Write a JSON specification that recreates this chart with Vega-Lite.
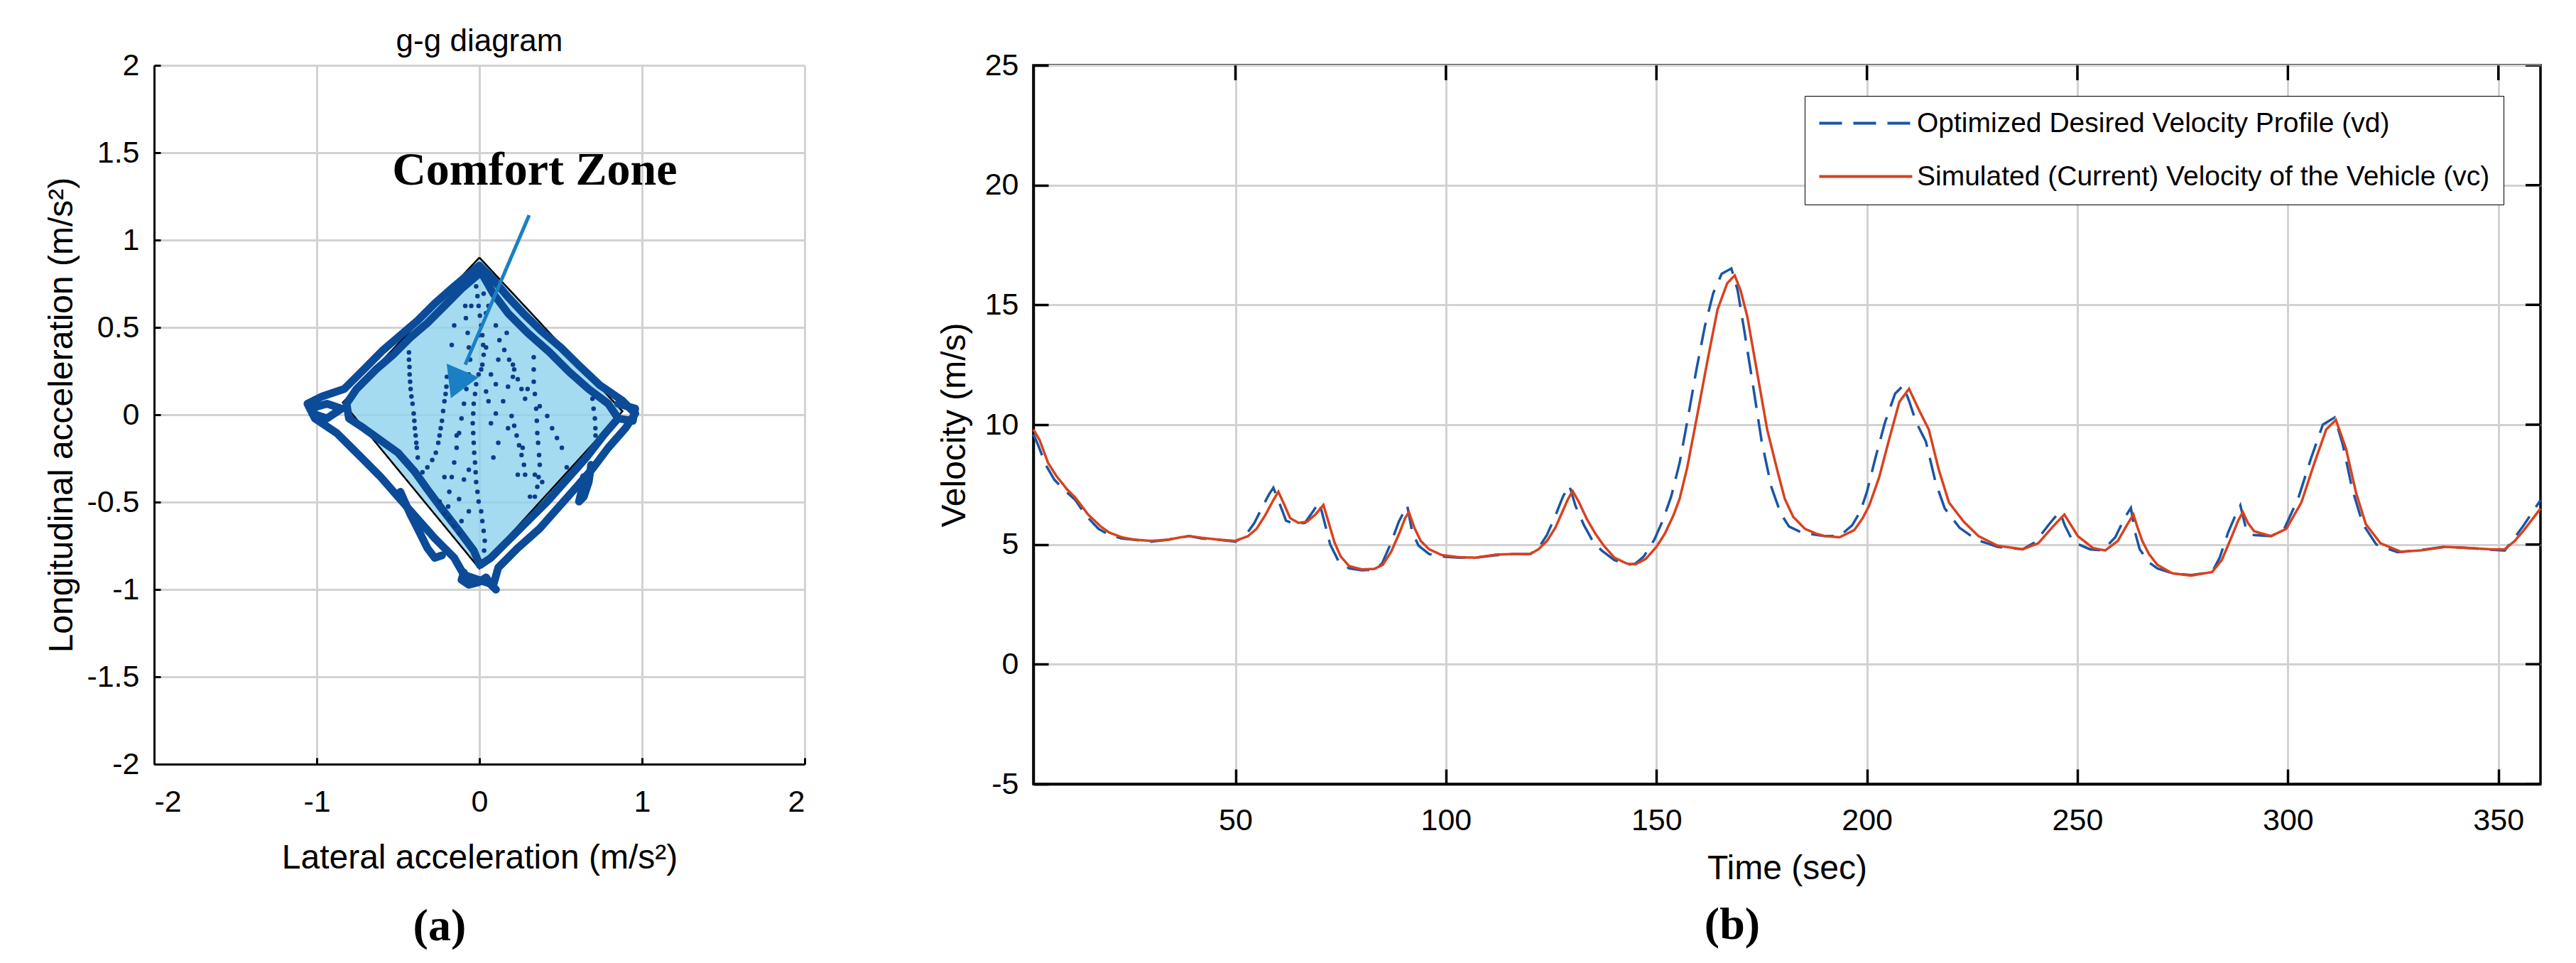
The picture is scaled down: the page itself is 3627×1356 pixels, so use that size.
{
  "$schema": "https://vega.github.io/schema/vega-lite/v6.json",
  "autosize": {"type": "pad"},
  "padding": {"left": 63, "top": 37, "right": 48, "bottom": 14},
  "background": "white",
  "config": {
    "font": "Liberation Sans",
    "view": {"stroke": null},
    "axis": {
      "labelFont": "Liberation Sans", "titleFont": "Liberation Sans",
      "labelColor": "black", "titleColor": "black", "titleFontWeight": "normal",
      "labelFontSize": 43, "titleFontSize": 48,
      "gridColor": "#d2d2d2", "gridWidth": 3, "gridOpacity": 1,
      "domainColor": "black", "tickColor": "black"
    }
  },
  "datasets": {
    "zone": [
      {"x": -0.84, "y": 0.07, "y2": 0.07},
      {"x": 0, "y": 0.9, "y2": -0.88},
      {"x": 0.88, "y": 0.02, "y2": 0.02}
    ],
    "outline": [
      {"i": 0, "x": 0, "y": 0.9}, {"i": 1, "x": 0.88, "y": 0.02}, {"i": 2, "x": 0, "y": -0.88},
      {"i": 3, "x": -0.84, "y": 0.07}, {"i": 4, "x": 0, "y": 0.9}
    ],
    "bands": [
      {"p": "A", "i": 0, "x": 0, "y": 0.854}, {"p": "A", "i": 1, "x": 0.08, "y": 0.78},
      {"p": "A", "i": 2, "x": 0.17, "y": 0.68}, {"p": "A", "i": 3, "x": 0.27, "y": 0.58},
      {"p": "A", "i": 4, "x": 0.38, "y": 0.48}, {"p": "A", "i": 5, "x": 0.5, "y": 0.385},
      {"p": "A", "i": 6, "x": 0.62, "y": 0.275}, {"p": "A", "i": 7, "x": 0.74, "y": 0.17},
      {"p": "A", "i": 8, "x": 0.88, "y": 0.08}, {"p": "A", "i": 9, "x": 0.958, "y": 0.007},
      {"p": "A", "i": 10, "x": 0.898, "y": -0.077}, {"p": "A", "i": 11, "x": 0.792, "y": -0.189},
      {"p": "A", "i": 12, "x": 0.702, "y": -0.301}, {"p": "A", "i": 13, "x": 0.597, "y": -0.413},
      {"p": "A", "i": 14, "x": 0.477, "y": -0.539}, {"p": "A", "i": 15, "x": 0.371, "y": -0.651},
      {"p": "A", "i": 16, "x": 0.236, "y": -0.763}, {"p": "A", "i": 17, "x": 0.116, "y": -0.875},
      {"p": "A", "i": 18, "x": 0.086, "y": -0.973}, {"p": "A", "i": 19, "x": -0.005, "y": -0.945},
      {"p": "A", "i": 20, "x": -0.095, "y": -0.917}, {"p": "A", "i": 21, "x": -0.155, "y": -0.819},
      {"p": "A", "i": 22, "x": -0.275, "y": -0.707}, {"p": "A", "i": 23, "x": -0.395, "y": -0.581},
      {"p": "A", "i": 24, "x": -0.501, "y": -0.469}, {"p": "A", "i": 25, "x": -0.606, "y": -0.357},
      {"p": "A", "i": 26, "x": -0.711, "y": -0.259}, {"p": "A", "i": 27, "x": -0.786, "y": -0.189},
      {"p": "A", "i": 28, "x": -0.877, "y": -0.105}, {"p": "A", "i": 29, "x": -1.012, "y": -0.021},
      {"p": "A", "i": 30, "x": -1.057, "y": 0.063}, {"p": "A", "i": 31, "x": -0.967, "y": 0.105},
      {"p": "A", "i": 32, "x": -0.832, "y": 0.147}, {"p": "A", "i": 33, "x": -0.711, "y": 0.259},
      {"p": "A", "i": 34, "x": -0.591, "y": 0.371}, {"p": "A", "i": 35, "x": -0.486, "y": 0.455},
      {"p": "A", "i": 36, "x": -0.38, "y": 0.539}, {"p": "A", "i": 37, "x": -0.275, "y": 0.637},
      {"p": "A", "i": 38, "x": -0.155, "y": 0.735}, {"p": "A", "i": 39, "x": -0.065, "y": 0.805},
      {"p": "A", "i": 40, "x": 0, "y": 0.854},
      {"p": "B", "i": 0, "x": -0.005, "y": 0.805}, {"p": "B", "i": 1, "x": -0.11, "y": 0.721},
      {"p": "B", "i": 2, "x": -0.215, "y": 0.623}, {"p": "B", "i": 3, "x": -0.32, "y": 0.525},
      {"p": "B", "i": 4, "x": -0.426, "y": 0.441}, {"p": "B", "i": 5, "x": -0.531, "y": 0.343},
      {"p": "B", "i": 6, "x": -0.636, "y": 0.259}, {"p": "B", "i": 7, "x": -0.756, "y": 0.147},
      {"p": "B", "i": 8, "x": -0.817, "y": 0.063}, {"p": "B", "i": 9, "x": -0.802, "y": -0.021},
      {"p": "B", "i": 10, "x": -0.711, "y": -0.077}, {"p": "B", "i": 11, "x": -0.606, "y": -0.147},
      {"p": "B", "i": 12, "x": -0.501, "y": -0.217}, {"p": "B", "i": 13, "x": -0.395, "y": -0.329},
      {"p": "B", "i": 14, "x": -0.32, "y": -0.427}, {"p": "B", "i": 15, "x": -0.23, "y": -0.539},
      {"p": "B", "i": 16, "x": -0.125, "y": -0.665}, {"p": "B", "i": 17, "x": -0.035, "y": -0.777},
      {"p": "B", "i": 18, "x": 0.003, "y": -0.861}, {"p": "B", "i": 19, "x": 0.071, "y": -0.819},
      {"p": "B", "i": 20, "x": 0.176, "y": -0.721}, {"p": "B", "i": 21, "x": 0.296, "y": -0.609},
      {"p": "B", "i": 22, "x": 0.417, "y": -0.497}, {"p": "B", "i": 23, "x": 0.537, "y": -0.371},
      {"p": "B", "i": 24, "x": 0.657, "y": -0.245}, {"p": "B", "i": 25, "x": 0.762, "y": -0.119},
      {"p": "B", "i": 26, "x": 0.853, "y": -0.021}, {"p": "B", "i": 27, "x": 0.792, "y": 0.063},
      {"p": "B", "i": 28, "x": 0.672, "y": 0.147}, {"p": "B", "i": 29, "x": 0.552, "y": 0.245},
      {"p": "B", "i": 30, "x": 0.432, "y": 0.357}, {"p": "B", "i": 31, "x": 0.296, "y": 0.469},
      {"p": "B", "i": 32, "x": 0.176, "y": 0.581}, {"p": "B", "i": 33, "x": 0.086, "y": 0.693},
      {"p": "B", "i": 34, "x": 0.026, "y": 0.791},
      {"p": "D", "i": 0, "x": -0.486, "y": -0.441}, {"p": "D", "i": 1, "x": -0.426, "y": -0.567},
      {"p": "D", "i": 2, "x": -0.365, "y": -0.679}, {"p": "D", "i": 3, "x": -0.32, "y": -0.763},
      {"p": "D", "i": 4, "x": -0.275, "y": -0.819}, {"p": "D", "i": 5, "x": -0.23, "y": -0.805},
      {"p": "E", "i": 0, "x": -0.095, "y": -0.903}, {"p": "E", "i": 1, "x": -0.11, "y": -0.945},
      {"p": "E", "i": 2, "x": -0.065, "y": -0.973}, {"p": "E", "i": 3, "x": -0.005, "y": -0.959},
      {"p": "E", "i": 4, "x": 0.041, "y": -0.931}, {"p": "E", "i": 5, "x": 0.071, "y": -0.973},
      {"p": "E", "i": 6, "x": 0.102, "y": -1.001},
      {"p": "F", "i": 0, "x": 0.642, "y": -0.357}, {"p": "F", "i": 1, "x": 0.627, "y": -0.441},
      {"p": "F", "i": 2, "x": 0.612, "y": -0.497}, {"p": "F", "i": 3, "x": 0.642, "y": -0.469},
      {"p": "F", "i": 4, "x": 0.672, "y": -0.385}, {"p": "F", "i": 5, "x": 0.687, "y": -0.287},
      {"p": "G", "i": 0, "x": -1.042, "y": 0.035}, {"p": "G", "i": 1, "x": -0.937, "y": 0.063},
      {"p": "G", "i": 2, "x": -0.847, "y": 0.035}, {"p": "G", "i": 3, "x": -0.937, "y": -0.021},
      {"p": "G", "i": 4, "x": -1.027, "y": 0.007},
      {"p": "H", "i": 0, "x": 0.853, "y": 0.063}, {"p": "H", "i": 1, "x": 0.958, "y": 0.035},
      {"p": "H", "i": 2, "x": 0.943, "y": -0.035}, {"p": "H", "i": 3, "x": 0.853, "y": -0.021}
    ],
    "dots": [
      {"x": -0.433, "y": 0.357}, {"x": -0.433, "y": 0.315}, {"x": -0.43, "y": 0.273}, {"x": -0.429, "y": 0.231},
      {"x": -0.426, "y": 0.189}, {"x": -0.423, "y": 0.147}, {"x": -0.418, "y": 0.105}, {"x": -0.411, "y": 0.063},
      {"x": -0.404, "y": 0.007}, {"x": -0.4, "y": -0.035}, {"x": -0.397, "y": -0.077}, {"x": -0.392, "y": -0.119},
      {"x": -0.388, "y": -0.161}, {"x": -0.385, "y": -0.189}, {"x": -0.379, "y": -0.245},
      {"x": -0.2, "y": 0.217}, {"x": -0.203, "y": 0.161}, {"x": -0.208, "y": 0.119}, {"x": -0.215, "y": 0.077},
      {"x": -0.223, "y": 0.021}, {"x": -0.23, "y": -0.035}, {"x": -0.238, "y": -0.077}, {"x": -0.245, "y": -0.119},
      {"x": -0.253, "y": -0.161}, {"x": -0.268, "y": -0.217}, {"x": -0.29, "y": -0.259}, {"x": -0.32, "y": -0.301},
      {"x": -0.35, "y": -0.329},
      {"x": -0.02, "y": 0.735}, {"x": -0.012, "y": 0.679}, {"x": -0.005, "y": 0.623}, {"x": 0.003, "y": 0.567},
      {"x": 0.011, "y": 0.511}, {"x": 0.018, "y": 0.455}, {"x": 0.023, "y": 0.399}, {"x": 0.026, "y": 0.343},
      {"x": 0.018, "y": 0.287}, {"x": -0.005, "y": 0.231}, {"x": -0.02, "y": 0.175}, {"x": -0.027, "y": 0.119},
      {"x": -0.035, "y": 0.063}, {"x": -0.038, "y": 0.007}, {"x": -0.041, "y": -0.049}, {"x": -0.038, "y": -0.105},
      {"x": -0.035, "y": -0.161}, {"x": -0.032, "y": -0.217}, {"x": -0.027, "y": -0.273}, {"x": -0.023, "y": -0.329},
      {"x": -0.02, "y": -0.385}, {"x": -0.012, "y": -0.441}, {"x": -0.005, "y": -0.497}, {"x": 0.011, "y": -0.553},
      {"x": 0.018, "y": -0.609}, {"x": 0.026, "y": -0.665}, {"x": 0.033, "y": -0.721}, {"x": 0.029, "y": -0.777},
      {"x": -0.087, "y": 0.623}, {"x": -0.083, "y": 0.553}, {"x": -0.072, "y": 0.469}, {"x": -0.065, "y": 0.385},
      {"x": -0.057, "y": 0.315}, {"x": -0.065, "y": 0.231}, {"x": -0.08, "y": 0.147}, {"x": -0.095, "y": 0.063},
      {"x": -0.11, "y": -0.021}, {"x": -0.125, "y": -0.105}, {"x": -0.14, "y": -0.189}, {"x": -0.155, "y": -0.273},
      {"x": -0.17, "y": -0.357}, {"x": -0.185, "y": -0.441}, {"x": -0.192, "y": -0.525}, {"x": -0.185, "y": -0.595},
      {"x": -0.155, "y": -0.637}, {"x": -0.125, "y": -0.679},
      {"x": 0.123, "y": 0.427}, {"x": 0.153, "y": 0.371}, {"x": 0.183, "y": 0.315}, {"x": 0.214, "y": 0.259},
      {"x": 0.236, "y": 0.203}, {"x": 0.259, "y": 0.147}, {"x": 0.281, "y": 0.091},
      {"x": 0.198, "y": -0.007}, {"x": 0.214, "y": -0.063}, {"x": 0.229, "y": -0.119}, {"x": 0.244, "y": -0.175},
      {"x": 0.259, "y": -0.231}, {"x": 0.274, "y": -0.287},
      {"x": 0.334, "y": 0.329}, {"x": 0.334, "y": 0.259}, {"x": 0.334, "y": 0.189}, {"x": 0.341, "y": 0.119},
      {"x": 0.349, "y": 0.035}, {"x": 0.353, "y": -0.035}, {"x": 0.356, "y": -0.105}, {"x": 0.361, "y": -0.161},
      {"x": 0.367, "y": -0.231}, {"x": 0.371, "y": -0.287}, {"x": 0.364, "y": -0.357}, {"x": 0.356, "y": -0.413},
      {"x": 0.341, "y": -0.469},
      {"x": 0.417, "y": -0.007}, {"x": 0.447, "y": -0.077}, {"x": 0.477, "y": -0.133}, {"x": 0.507, "y": -0.189},
      {"x": 0.537, "y": -0.301},
      {"x": 0.695, "y": 0.091}, {"x": 0.702, "y": 0.035}, {"x": 0.71, "y": -0.021}, {"x": 0.713, "y": -0.077},
      {"x": 0.714, "y": -0.119},
      {"x": -0.17, "y": 0.399}, {"x": -0.155, "y": 0.511}, {"x": 0.041, "y": 0.581}, {"x": 0.101, "y": 0.511},
      {"x": 0.168, "y": 0.469}, {"x": 0.116, "y": 0.315}, {"x": 0.206, "y": 0.287}, {"x": 0.206, "y": 0.217},
      {"x": 0.071, "y": 0.231}, {"x": 0.101, "y": 0.175}, {"x": 0.041, "y": 0.133}, {"x": 0.176, "y": 0.161},
      {"x": 0.296, "y": 0.147}, {"x": 0.371, "y": 0.049}, {"x": 0.101, "y": 0.007}, {"x": 0.071, "y": -0.049},
      {"x": 0.176, "y": -0.077}, {"x": 0.266, "y": -0.189}, {"x": 0.281, "y": -0.343}, {"x": 0.341, "y": -0.343},
      {"x": 0.236, "y": -0.343}, {"x": -0.125, "y": -0.483}, {"x": -0.095, "y": -0.371}, {"x": -0.065, "y": -0.315},
      {"x": -0.14, "y": -0.119}, {"x": -0.215, "y": -0.357}, {"x": -0.245, "y": -0.497}, {"x": 0.026, "y": 0.693},
      {"x": 0.056, "y": 0.623}, {"x": -0.05, "y": 0.623}, {"x": -0.005, "y": 0.455}, {"x": 0.041, "y": 0.385},
      {"x": 0.011, "y": 0.259}, {"x": 0.056, "y": 0.077}, {"x": 0.146, "y": 0.077}, {"x": 0.116, "y": -0.161},
      {"x": 0.086, "y": -0.245}, {"x": -0.065, "y": -0.553}, {"x": -0.11, "y": -0.609}, {"x": -0.215, "y": -0.567},
      {"x": 0.311, "y": -0.469}, {"x": 0.386, "y": -0.385}
    ],
    "arrow": [{"x": 0.306, "y": 1.142, "x2": -0.087, "y2": 0.287}],
    "arrowhead": [{"x": -0.127, "y": 0.2005}],
    "leftText": [
      {"x": 0.34, "y": 1.4, "label": "Comfort Zone"}
    ],
    "panelA": [{"x": -0.245, "y": -2.93, "label": "(a)"}],
    "panelB": [{"t": 168, "v": -10.9, "label": "(b)"}],
    "topTicks": [
      {"t": 50, "v": 25}, {"t": 100, "v": 25}, {"t": 150, "v": 25}, {"t": 200, "v": 25},
      {"t": 250, "v": 25}, {"t": 300, "v": 25}, {"t": 350, "v": 25}
    ],
    "rightTicks": [
      {"t": 360, "v": -5}, {"t": 360, "v": 0}, {"t": 360, "v": 5}, {"t": 360, "v": 10},
      {"t": 360, "v": 15}, {"t": 360, "v": 20}, {"t": 360, "v": 25}
    ],
    "vel": [
      {"s": "vd", "t": 2, "v": 9.6}, {"s": "vd", "t": 3, "v": 9.2}, {"s": "vd", "t": 5, "v": 8.3}, {"s": "vd", "t": 7, "v": 7.7},
      {"s": "vd", "t": 9.5, "v": 7.25}, {"s": "vd", "t": 12, "v": 6.85}, {"s": "vd", "t": 14.5, "v": 6.2}, {"s": "vd", "t": 17.5, "v": 5.65},
      {"s": "vd", "t": 20, "v": 5.4}, {"s": "vd", "t": 23, "v": 5.25}, {"s": "vd", "t": 26, "v": 5.2}, {"s": "vd", "t": 30, "v": 5.12},
      {"s": "vd", "t": 34, "v": 5.2}, {"s": "vd", "t": 37, "v": 5.3}, {"s": "vd", "t": 39, "v": 5.35}, {"s": "vd", "t": 42, "v": 5.25},
      {"s": "vd", "t": 46, "v": 5.2}, {"s": "vd", "t": 50, "v": 5.12}, {"s": "vd", "t": 52.5, "v": 5.4}, {"s": "vd", "t": 54.5, "v": 5.9},
      {"s": "vd", "t": 56.5, "v": 6.6}, {"s": "vd", "t": 58, "v": 7.1}, {"s": "vd", "t": 59, "v": 7.37}, {"s": "vd", "t": 60.5, "v": 6.7},
      {"s": "vd", "t": 62, "v": 6.0}, {"s": "vd", "t": 64, "v": 5.85}, {"s": "vd", "t": 66.5, "v": 5.9}, {"s": "vd", "t": 68.5, "v": 6.4},
      {"s": "vd", "t": 69.9, "v": 6.78}, {"s": "vd", "t": 71.2, "v": 5.9}, {"s": "vd", "t": 72.5, "v": 5.0}, {"s": "vd", "t": 74.5, "v": 4.3},
      {"s": "vd", "t": 77, "v": 4.0}, {"s": "vd", "t": 80, "v": 3.92}, {"s": "vd", "t": 83, "v": 3.95}, {"s": "vd", "t": 84.8, "v": 4.2},
      {"s": "vd", "t": 86.8, "v": 5.0}, {"s": "vd", "t": 88.8, "v": 5.95}, {"s": "vd", "t": 90.8, "v": 6.63}, {"s": "vd", "t": 92, "v": 5.5},
      {"s": "vd", "t": 93.5, "v": 4.95}, {"s": "vd", "t": 96, "v": 4.6}, {"s": "vd", "t": 99, "v": 4.5}, {"s": "vd", "t": 103, "v": 4.45},
      {"s": "vd", "t": 107, "v": 4.45}, {"s": "vd", "t": 112, "v": 4.55}, {"s": "vd", "t": 116, "v": 4.6}, {"s": "vd", "t": 120, "v": 4.6},
      {"s": "vd", "t": 122, "v": 4.85}, {"s": "vd", "t": 124, "v": 5.4}, {"s": "vd", "t": 126, "v": 6.2}, {"s": "vd", "t": 127.8, "v": 7.0},
      {"s": "vd", "t": 129.3, "v": 7.47}, {"s": "vd", "t": 130.8, "v": 6.6}, {"s": "vd", "t": 132.8, "v": 5.8}, {"s": "vd", "t": 135, "v": 5.1},
      {"s": "vd", "t": 137, "v": 4.75}, {"s": "vd", "t": 140, "v": 4.35}, {"s": "vd", "t": 143, "v": 4.15}, {"s": "vd", "t": 145, "v": 4.2},
      {"s": "vd", "t": 147, "v": 4.5}, {"s": "vd", "t": 149.5, "v": 5.2}, {"s": "vd", "t": 151.5, "v": 6.0}, {"s": "vd", "t": 153.5, "v": 7.0},
      {"s": "vd", "t": 155.5, "v": 8.4}, {"s": "vd", "t": 157.5, "v": 10.3}, {"s": "vd", "t": 159.5, "v": 12.3}, {"s": "vd", "t": 161.5, "v": 14.1},
      {"s": "vd", "t": 163.5, "v": 15.5}, {"s": "vd", "t": 165.5, "v": 16.3}, {"s": "vd", "t": 167.8, "v": 16.52}, {"s": "vd", "t": 169.3, "v": 15.6},
      {"s": "vd", "t": 170.8, "v": 14.0}, {"s": "vd", "t": 172.8, "v": 11.8}, {"s": "vd", "t": 175, "v": 9.3}, {"s": "vd", "t": 177.3, "v": 7.4},
      {"s": "vd", "t": 179.5, "v": 6.3}, {"s": "vd", "t": 181.5, "v": 5.75}, {"s": "vd", "t": 184.5, "v": 5.5}, {"s": "vd", "t": 188, "v": 5.4},
      {"s": "vd", "t": 190, "v": 5.35}, {"s": "vd", "t": 193.5, "v": 5.35}, {"s": "vd", "t": 196.5, "v": 5.8}, {"s": "vd", "t": 198.5, "v": 6.4},
      {"s": "vd", "t": 200, "v": 7.2}, {"s": "vd", "t": 202, "v": 8.6}, {"s": "vd", "t": 204.3, "v": 10.1}, {"s": "vd", "t": 206.7, "v": 11.3},
      {"s": "vd", "t": 208.6, "v": 11.63}, {"s": "vd", "t": 210, "v": 11.0}, {"s": "vd", "t": 211.7, "v": 10.1}, {"s": "vd", "t": 214, "v": 9.3},
      {"s": "vd", "t": 216.3, "v": 7.6}, {"s": "vd", "t": 218.5, "v": 6.5}, {"s": "vd", "t": 222, "v": 5.7}, {"s": "vd", "t": 226, "v": 5.2},
      {"s": "vd", "t": 231, "v": 4.9}, {"s": "vd", "t": 237, "v": 4.8}, {"s": "vd", "t": 240, "v": 5.1}, {"s": "vd", "t": 243.3, "v": 5.85},
      {"s": "vd", "t": 245.8, "v": 6.38}, {"s": "vd", "t": 247, "v": 5.8}, {"s": "vd", "t": 249, "v": 5.1}, {"s": "vd", "t": 253, "v": 4.8},
      {"s": "vd", "t": 256, "v": 4.75}, {"s": "vd", "t": 259, "v": 5.3}, {"s": "vd", "t": 261.2, "v": 6.1}, {"s": "vd", "t": 262.7, "v": 6.53},
      {"s": "vd", "t": 263.7, "v": 5.5}, {"s": "vd", "t": 264.8, "v": 4.8}, {"s": "vd", "t": 267, "v": 4.25}, {"s": "vd", "t": 269, "v": 4.0},
      {"s": "vd", "t": 272.5, "v": 3.8}, {"s": "vd", "t": 277, "v": 3.72}, {"s": "vd", "t": 282, "v": 3.85}, {"s": "vd", "t": 283.8, "v": 4.45},
      {"s": "vd", "t": 285.8, "v": 5.5}, {"s": "vd", "t": 287.5, "v": 6.2}, {"s": "vd", "t": 288.7, "v": 6.63}, {"s": "vd", "t": 290, "v": 5.7},
      {"s": "vd", "t": 291.5, "v": 5.4}, {"s": "vd", "t": 296, "v": 5.35}, {"s": "vd", "t": 299, "v": 5.6}, {"s": "vd", "t": 302.5, "v": 6.95},
      {"s": "vd", "t": 305.5, "v": 8.6}, {"s": "vd", "t": 308.3, "v": 10.0}, {"s": "vd", "t": 311.1, "v": 10.3}, {"s": "vd", "t": 313, "v": 9.2},
      {"s": "vd", "t": 315.3, "v": 7.3}, {"s": "vd", "t": 317.8, "v": 5.85}, {"s": "vd", "t": 321, "v": 5.0}, {"s": "vd", "t": 326, "v": 4.68},
      {"s": "vd", "t": 331, "v": 4.75}, {"s": "vd", "t": 337, "v": 4.9}, {"s": "vd", "t": 343, "v": 4.85}, {"s": "vd", "t": 348, "v": 4.78},
      {"s": "vd", "t": 351.5, "v": 4.75}, {"s": "vd", "t": 353.5, "v": 5.2}, {"s": "vd", "t": 356, "v": 5.8}, {"s": "vd", "t": 360, "v": 6.85},
      {"s": "vc", "t": 2, "v": 9.8}, {"s": "vc", "t": 3.5, "v": 9.35}, {"s": "vc", "t": 5.5, "v": 8.4}, {"s": "vc", "t": 7.5, "v": 7.85},
      {"s": "vc", "t": 10, "v": 7.3}, {"s": "vc", "t": 12, "v": 6.95}, {"s": "vc", "t": 15, "v": 6.25}, {"s": "vc", "t": 18, "v": 5.75},
      {"s": "vc", "t": 20, "v": 5.5}, {"s": "vc", "t": 23, "v": 5.3}, {"s": "vc", "t": 26, "v": 5.2}, {"s": "vc", "t": 30, "v": 5.15},
      {"s": "vc", "t": 34, "v": 5.2}, {"s": "vc", "t": 37, "v": 5.3}, {"s": "vc", "t": 39, "v": 5.35}, {"s": "vc", "t": 42, "v": 5.28},
      {"s": "vc", "t": 46, "v": 5.2}, {"s": "vc", "t": 50, "v": 5.15}, {"s": "vc", "t": 53, "v": 5.35}, {"s": "vc", "t": 55, "v": 5.65},
      {"s": "vc", "t": 57, "v": 6.2}, {"s": "vc", "t": 59, "v": 6.85}, {"s": "vc", "t": 60.2, "v": 7.2}, {"s": "vc", "t": 61.5, "v": 6.7},
      {"s": "vc", "t": 63, "v": 6.1}, {"s": "vc", "t": 65, "v": 5.9}, {"s": "vc", "t": 67, "v": 5.95}, {"s": "vc", "t": 69, "v": 6.25},
      {"s": "vc", "t": 70.9, "v": 6.65}, {"s": "vc", "t": 72, "v": 6.0}, {"s": "vc", "t": 73.5, "v": 5.1}, {"s": "vc", "t": 75, "v": 4.5},
      {"s": "vc", "t": 77, "v": 4.1}, {"s": "vc", "t": 80, "v": 3.96}, {"s": "vc", "t": 83, "v": 3.98}, {"s": "vc", "t": 85, "v": 4.15},
      {"s": "vc", "t": 87, "v": 4.7}, {"s": "vc", "t": 89, "v": 5.5}, {"s": "vc", "t": 90.3, "v": 6.1}, {"s": "vc", "t": 91.2, "v": 6.35},
      {"s": "vc", "t": 92.5, "v": 5.7}, {"s": "vc", "t": 94, "v": 5.15}, {"s": "vc", "t": 96, "v": 4.8}, {"s": "vc", "t": 99, "v": 4.56},
      {"s": "vc", "t": 103, "v": 4.47}, {"s": "vc", "t": 107, "v": 4.45}, {"s": "vc", "t": 112, "v": 4.58}, {"s": "vc", "t": 116, "v": 4.6},
      {"s": "vc", "t": 120, "v": 4.6}, {"s": "vc", "t": 122, "v": 4.8}, {"s": "vc", "t": 124, "v": 5.15}, {"s": "vc", "t": 126, "v": 5.7},
      {"s": "vc", "t": 127.5, "v": 6.3}, {"s": "vc", "t": 129, "v": 6.9}, {"s": "vc", "t": 130.1, "v": 7.23}, {"s": "vc", "t": 131.5, "v": 6.8},
      {"s": "vc", "t": 133.5, "v": 6.05}, {"s": "vc", "t": 135.5, "v": 5.45}, {"s": "vc", "t": 137.5, "v": 4.95}, {"s": "vc", "t": 140, "v": 4.45},
      {"s": "vc", "t": 143, "v": 4.2}, {"s": "vc", "t": 145, "v": 4.17}, {"s": "vc", "t": 147.5, "v": 4.4}, {"s": "vc", "t": 150, "v": 4.9},
      {"s": "vc", "t": 152, "v": 5.45}, {"s": "vc", "t": 154, "v": 6.2}, {"s": "vc", "t": 155.5, "v": 6.9}, {"s": "vc", "t": 157.3, "v": 8.2},
      {"s": "vc", "t": 159.7, "v": 10.4}, {"s": "vc", "t": 162.1, "v": 12.65}, {"s": "vc", "t": 164.5, "v": 14.8}, {"s": "vc", "t": 166.8, "v": 15.9},
      {"s": "vc", "t": 168.6, "v": 16.23}, {"s": "vc", "t": 170, "v": 15.6}, {"s": "vc", "t": 171.6, "v": 14.5}, {"s": "vc", "t": 173.9, "v": 12.2},
      {"s": "vc", "t": 176.3, "v": 9.8}, {"s": "vc", "t": 178.7, "v": 8.1}, {"s": "vc", "t": 180.5, "v": 6.9}, {"s": "vc", "t": 182.5, "v": 6.15},
      {"s": "vc", "t": 185.3, "v": 5.65}, {"s": "vc", "t": 188, "v": 5.45}, {"s": "vc", "t": 190, "v": 5.35}, {"s": "vc", "t": 193.5, "v": 5.3},
      {"s": "vc", "t": 197, "v": 5.6}, {"s": "vc", "t": 199, "v": 6.1}, {"s": "vc", "t": 200.6, "v": 6.65}, {"s": "vc", "t": 202.9, "v": 7.8},
      {"s": "vc", "t": 205.3, "v": 9.4}, {"s": "vc", "t": 207.7, "v": 10.95}, {"s": "vc", "t": 210, "v": 11.5}, {"s": "vc", "t": 212.4, "v": 10.6},
      {"s": "vc", "t": 214.7, "v": 9.8}, {"s": "vc", "t": 217.1, "v": 8.1}, {"s": "vc", "t": 219.5, "v": 6.75}, {"s": "vc", "t": 223, "v": 5.95},
      {"s": "vc", "t": 226.5, "v": 5.35}, {"s": "vc", "t": 231, "v": 4.95}, {"s": "vc", "t": 237, "v": 4.8}, {"s": "vc", "t": 240.7, "v": 5.05},
      {"s": "vc", "t": 244.2, "v": 5.75}, {"s": "vc", "t": 246.9, "v": 6.25}, {"s": "vc", "t": 248.5, "v": 5.8}, {"s": "vc", "t": 250.1, "v": 5.35},
      {"s": "vc", "t": 253.7, "v": 4.85}, {"s": "vc", "t": 256.6, "v": 4.75}, {"s": "vc", "t": 259.6, "v": 5.15}, {"s": "vc", "t": 261.9, "v": 5.85},
      {"s": "vc", "t": 263.3, "v": 6.25}, {"s": "vc", "t": 264.3, "v": 5.7}, {"s": "vc", "t": 265.4, "v": 5.15}, {"s": "vc", "t": 267, "v": 4.6},
      {"s": "vc", "t": 269, "v": 4.15}, {"s": "vc", "t": 272.5, "v": 3.8}, {"s": "vc", "t": 277, "v": 3.7}, {"s": "vc", "t": 282, "v": 3.85},
      {"s": "vc", "t": 284.3, "v": 4.35}, {"s": "vc", "t": 286.7, "v": 5.35}, {"s": "vc", "t": 288.2, "v": 6.0}, {"s": "vc", "t": 289.3, "v": 6.35},
      {"s": "vc", "t": 290.5, "v": 5.9}, {"s": "vc", "t": 292, "v": 5.55}, {"s": "vc", "t": 296, "v": 5.35}, {"s": "vc", "t": 299.6, "v": 5.65},
      {"s": "vc", "t": 303.2, "v": 6.75}, {"s": "vc", "t": 306.1, "v": 8.3}, {"s": "vc", "t": 309.1, "v": 9.8}, {"s": "vc", "t": 311.4, "v": 10.2},
      {"s": "vc", "t": 313.8, "v": 9.0}, {"s": "vc", "t": 316.2, "v": 7.15}, {"s": "vc", "t": 318.5, "v": 5.85}, {"s": "vc", "t": 322, "v": 5.05},
      {"s": "vc", "t": 326.8, "v": 4.7}, {"s": "vc", "t": 331.5, "v": 4.75}, {"s": "vc", "t": 337.4, "v": 4.9}, {"s": "vc", "t": 343.3, "v": 4.85},
      {"s": "vc", "t": 348, "v": 4.8}, {"s": "vc", "t": 351.5, "v": 4.8}, {"s": "vc", "t": 353.9, "v": 5.15}, {"s": "vc", "t": 356.3, "v": 5.65},
      {"s": "vc", "t": 360, "v": 6.5}
    ]
  },
  "spacing": 322,
  "bounds": "flush",
  "hconcat": [
    {
      "width": 916,
      "height": 984,
      "title": {"text": "g-g diagram", "fontSize": 44, "fontWeight": "normal", "font": "Liberation Sans", "color": "black", "offset": -45, "baseline": "alphabetic"},
      "encoding": {
        "x": {"field": "x", "type": "quantitative",
          "scale": {"domain": [-2, 2], "nice": false, "zero": false},
          "axis": {"title": "Lateral acceleration (m/s²)", "values": [-2, -1, 0, 1, 2], "labelExpr": "'' + datum.value",
            "grid": true, "domainWidth": 3, "tickSize": -9, "tickWidth": 3, "labelPadding": 41, "titlePadding": 33}},
        "y": {"field": "y", "type": "quantitative",
          "scale": {"domain": [-2, 2], "nice": false, "zero": false},
          "axis": {"title": "Longitudinal acceleration (m/s²)", "values": [-2, -1.5, -1, -0.5, 0, 0.5, 1, 1.5, 2], "labelExpr": "'' + datum.value",
            "grid": true, "domainWidth": 3, "tickSize": -9, "tickWidth": 3, "labelPadding": 30, "titlePadding": 10}}
      },
      "layer": [
        {"data": {"name": "zone"}, "mark": {"type": "area", "color": "#8fd2ee", "opacity": 0.8},
          "encoding": {"y2": {"field": "y2"}}},
        {"data": {"name": "outline"}, "mark": {"type": "line", "color": "black", "strokeWidth": 2.5},
          "encoding": {"order": {"field": "i", "type": "quantitative"}}},
        {"data": {"name": "bands"}, "mark": {"type": "line", "color": "#0b4b98", "strokeWidth": 11, "strokeJoin": "round", "strokeCap": "round"},
          "encoding": {"detail": {"field": "p", "type": "nominal"}, "order": {"field": "i", "type": "quantitative"}}},
        {"data": {"name": "dots"}, "mark": {"type": "point", "filled": true, "color": "#0a3d8c", "size": 42, "opacity": 1},
          "encoding": {}},
        {"data": {"name": "arrow"}, "mark": {"type": "rule", "color": "#1a80c3", "strokeWidth": 5},
          "encoding": {"x2": {"field": "x2"}, "y2": {"field": "y2"}}},
        {"data": {"name": "arrowhead"}, "mark": {"type": "point", "shape": "triangle", "filled": true, "color": "#1a80c3", "size": 2400, "angle": 203, "opacity": 1},
          "encoding": {}},
        {"data": {"name": "leftText"}, "mark": {"type": "text", "font": "Liberation Serif", "fontWeight": "bold", "fontSize": 66, "color": "black", "align": "center", "baseline": "middle"},
          "encoding": {"text": {"field": "label"}}},
        {"data": {"name": "panelA"}, "mark": {"type": "text", "font": "Liberation Serif", "fontWeight": "bold", "fontSize": 64, "color": "black", "align": "center", "baseline": "middle"},
          "encoding": {"text": {"field": "label"}}}
      ]
    },
    {
      "width": 2122,
      "height": 1012,
      "view": {"stroke": "black", "strokeWidth": 3.5},
      "resolve": {"axis": {"x": "independent", "y": "independent"}},
      "layer": [
        {"data": {"name": "vel"}, "mark": {"type": "line", "strokeWidth": 3.5},
          "encoding": {
            "x": {"field": "t", "type": "quantitative",
              "scale": {"domain": [2, 360], "nice": false, "zero": false},
              "axis": {"orient": "bottom", "title": "Time (sec)", "values": [50, 100, 150, 200, 250, 300, 350], "labelExpr": "'' + datum.value",
                "grid": true, "domainWidth": 3.5, "tickSize": -21, "tickWidth": 3.5, "labelPadding": 51, "titlePadding": 22}},
            "y": {"field": "v", "type": "quantitative",
              "scale": {"domain": [-5, 25], "nice": false, "zero": false},
              "axis": {"orient": "left", "title": "Velocity (m/s)", "values": [-5, 0, 5, 10, 15, 20, 25], "labelExpr": "'' + datum.value",
                "grid": true, "domainWidth": 3.5, "tickSize": -21, "tickWidth": 3.5, "labelPadding": 42, "titlePadding": 18}},
            "color": {"field": "s", "type": "nominal",
              "scale": {"domain": ["vd", "vc"], "range": ["#1a55a5", "#d9411e"]},
              "legend": {"orient": "none", "legendX": 2324, "legendY": 43, "title": null,
                "labelExpr": "datum.value === 'vd' ? 'Optimized Desired Velocity Profile (vd)' : 'Simulated (Current) Velocity of the Vehicle (vc)'",
                "symbolType": "M-1.1,0H6.9", "symbolSize": 1072, "symbolStrokeWidth": 4,
                "labelFontSize": 39, "labelFont": "Liberation Sans", "labelColor": "black", "labelOffset": 100, "labelLimit": 0,
                "rowPadding": 35, "padding": 19, "strokeColor": "black", "fillColor": "white"}},
            "strokeDash": {"field": "s", "type": "nominal",
              "scale": {"domain": ["vd", "vc"], "range": [[32, 16], [1, 0]]},
              "legend": {"orient": "none", "legendX": 2324, "legendY": 43, "title": null,
                "labelExpr": "datum.value === 'vd' ? 'Optimized Desired Velocity Profile (vd)' : 'Simulated (Current) Velocity of the Vehicle (vc)'",
                "symbolType": "M-1.1,0H6.9", "symbolSize": 1072, "symbolStrokeWidth": 4,
                "labelFontSize": 39, "labelFont": "Liberation Sans", "labelColor": "black", "labelOffset": 100, "labelLimit": 0,
                "rowPadding": 35, "padding": 19, "strokeColor": "black", "fillColor": "white"}}
          }},
        {"data": {"name": "topTicks"}, "mark": {"type": "tick", "orient": "vertical", "size": 42, "thickness": 3.5, "color": "black", "opacity": 1, "clip": true},
          "encoding": {
            "x": {"field": "t", "type": "quantitative", "scale": {"domain": [2, 360], "nice": false, "zero": false}, "axis": null},
            "y": {"field": "v", "type": "quantitative", "scale": {"domain": [-5, 25], "nice": false, "zero": false}, "axis": null}
          }},
        {"data": {"name": "rightTicks"}, "mark": {"type": "tick", "orient": "horizontal", "size": 42, "thickness": 3.5, "color": "black", "opacity": 1, "clip": true},
          "encoding": {
            "x": {"field": "t", "type": "quantitative", "scale": {"domain": [2, 360], "nice": false, "zero": false}, "axis": null},
            "y": {"field": "v", "type": "quantitative", "scale": {"domain": [-5, 25], "nice": false, "zero": false}, "axis": null}
          }},
        {"data": {"name": "panelB"}, "mark": {"type": "text", "font": "Liberation Serif", "fontWeight": "bold", "fontSize": 64, "color": "black", "align": "center", "baseline": "middle"},
          "encoding": {
            "x": {"field": "t", "type": "quantitative", "scale": {"domain": [2, 360], "nice": false, "zero": false}, "axis": null},
            "y": {"field": "v", "type": "quantitative", "scale": {"domain": [-5, 25], "nice": false, "zero": false}, "axis": null},
            "text": {"field": "label"}}}
      ]
    }
  ]
}
